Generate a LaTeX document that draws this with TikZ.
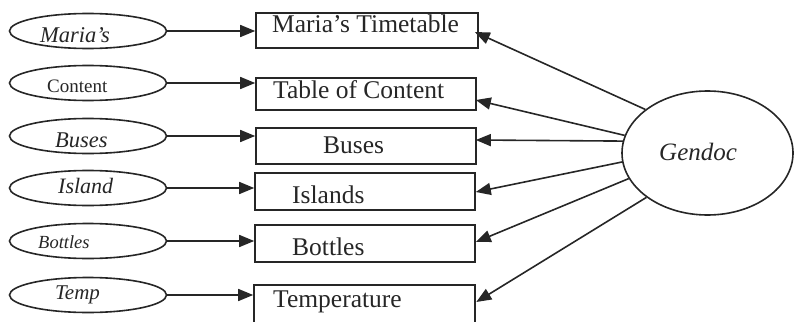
\documentclass[tikz,border=0pt]{standalone}
\usepackage{fontspec}
\setmainfont{Liberation Serif}
\usetikzlibrary{shapes.geometric,arrows.meta,calc}
\definecolor{ink}{HTML}{262626}
\tikzset{
  oval/.style={draw=ink, line width=1.6pt, ellipse, inner sep=0pt,
               minimum width=157pt, minimum height=35pt},
  docbox/.style={draw=ink, line width=1.6pt, rectangle, inner sep=0pt},
  lbl/.style={anchor=base west, inner sep=0pt, text=ink},
  conn/.style={draw=ink, line width=1.6pt,
               -{Triangle[length=15pt,width=12pt]}},
}
\newcommand{\fs}[1]{\fontsize{#1}{#1}\selectfont}
\begin{document}
\begin{tikzpicture}[x=1pt,y=-1pt]
  \useasboundingbox (0,0) rectangle (794,321);

  % source ovals on the left
  \node[oval] (e1) at (88,31)  {};
  \node[oval] (e2) at (88,83)  {};
  \node[oval] (e3) at (88,136) {};
  \node[oval] (e4) at (88,188) {};
  \node[oval] (e5) at (88,241) {};
  \node[oval] (e6) at (88,295) {};

  \node[lbl] (t1) at (40,42)  {\fs{22.5}\itshape Maria's};
  \node[lbl] (t2) at (47,92)  {\fs{19}Content};
  \node[lbl] (t3) at (55,147) {\fs{22.5}\itshape Buses};
  \node[lbl] (t4) at (58,193) {\fs{22}\itshape Island};
  \node[lbl] (t5) at (38,248) {\fs{18.5}\itshape Bottles};
  \node[lbl] (t6) at (55,299) {\fs{21}\itshape Temp};

  % document boxes
  \node[docbox, minimum width=222pt, minimum height=35pt] (b1) at (367,30.5) {};
  \node[docbox, minimum width=220pt, minimum height=32pt] (b2) at (366,94)   {};
  \node[docbox, minimum width=220pt, minimum height=36pt] (b3) at (366,146)  {};
  \node[docbox, minimum width=220pt, minimum height=37pt] (b4) at (365,191.5){};
  \node[docbox, minimum width=220pt, minimum height=37pt] (b5) at (365,243.5){};
  \node[docbox, minimum width=221pt, minimum height=42pt] (b6) at (364.5,306){};

  \node[lbl] (d1) at (272,33)  {\fs{25.5}Maria’s Timetable};
  \node[lbl] (d2) at (273,98)  {\fs{25.5}Table of Content};
  \node[lbl] (d3) at (323,153) {\fs{25.5}Buses};
  \node[lbl] (d4) at (292,203) {\fs{25.5}Islands};
  \node[lbl] (d5) at (292,255) {\fs{25.5}Bottles};
  \node[lbl] (d6) at (273,307) {\fs{25.5}Temperature};

  % generator on the right
  \node[draw=ink, line width=1.6pt, ellipse, inner sep=0pt,
        minimum width=171pt, minimum height=124pt] (g) at (707.5,153) {};
  \node[lbl] (gt) at (659,160) {\fs{25}\itshape Gendoc};

  % ovals feed the boxes
  \foreach \i in {1,...,6}
    \draw[conn] (e\i.east) -- (e\i.east -| b\i.west);

  % arrow tips on the right side of the boxes
  \coordinate (p1) at ($(b1.east)+(-4,1.5)$);
  \coordinate (p2) at ($(b2.east)+(-1,6)$);
  \coordinate (p3) at ($(b3.east)+(-1,-6)$);
  \coordinate (p4) at ($(b4.east)+(0,0.5)$);
  \coordinate (p5) at ($(b5.east)+(0,-1.5)$);
  \coordinate (p6) at ($(b6.east)+(0.5,-4)$);

  \draw[conn] (g.145.5) -- (p1);
  \draw[conn] (g.168)   -- (p2);
  \draw[conn] (g.172.6) -- (p3);
  \draw[conn] (g.186.7) -- (p4);
  \draw[conn] (g.198.5) -- (p5);
  \draw[conn] (g.216.5) -- (p6);
\end{tikzpicture}
\end{document}
